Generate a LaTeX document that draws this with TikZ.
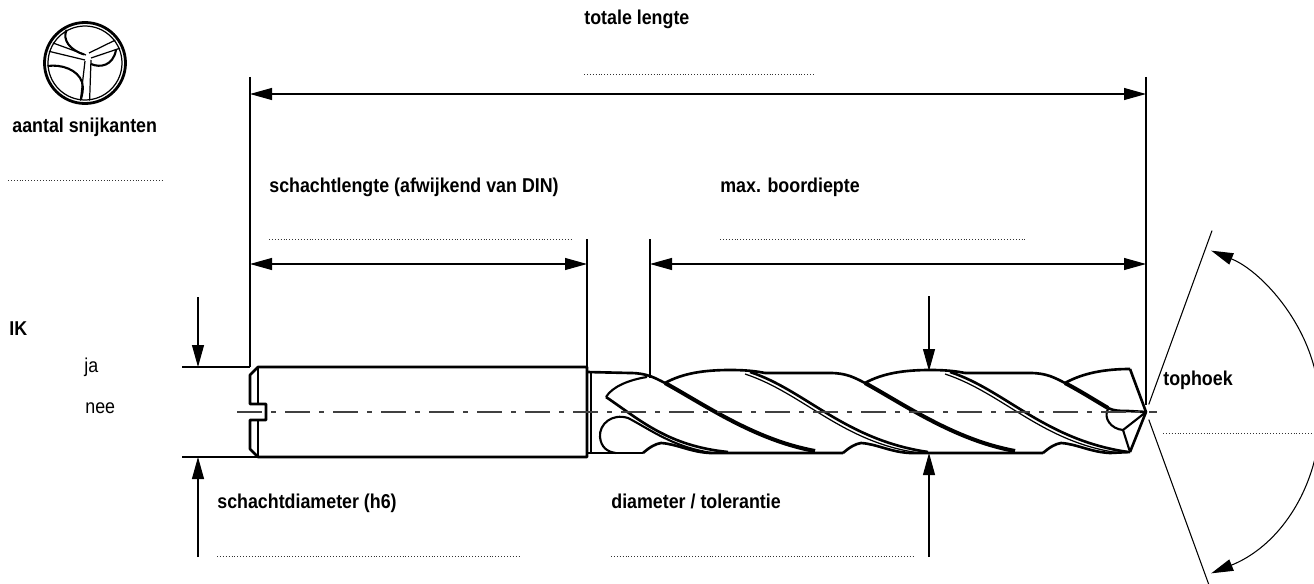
\documentclass[tikz,border=0pt]{standalone}
\usepackage{fontspec}
\setmainfont{Liberation Sans}[FakeStretch=0.89]
\usetikzlibrary{arrows.meta}

\tikzset{
  dimline/.style={line width=0.6pt},
  extline/.style={line width=0.6pt},
  outline/.style={line width=1.5pt,line join=round},
  heel/.style={line width=2.3pt},
  flank/.style={line width=1.2pt},
  rim/.style={line width=0.7pt},
  axisline/.style={line width=0.6pt,black!75,dash pattern=on 5mm off 1.8mm on 1mm off 1.8mm},
  dots/.style={line width=0.55pt,black!80,dash pattern=on 0.55pt off 1.1pt},
  lbl/.style={font=\bfseries\fontsize{11.4}{13}\selectfont,inner sep=0pt,anchor=base west},
  opt/.style={font=\fontsize{11.4}{13}\selectfont,inner sep=0pt,anchor=base west}
}

\begin{document}
\begin{tikzpicture}[x=0.2mm,y=-0.2mm,>={Triangle[length=4.4mm,width=2.4mm]}]

    \useasboundingbox (0,0) rectangle (1314,584);
    \clip (0,0) rectangle (1314,584);

    % end view of the tool
    \draw[line width=1.6pt] (85,63) circle[radius=40.5];
    \draw[rim] (85,63) circle[radius=37];
    \draw[rim] (52.8,42.9) -- (86,55) (48.9,51.3) -- (85,60);
    \draw[rim] (115.3,40.1) -- (89,53) (120,48.2) -- (91,58);
    \draw[rim] (80.4,100.7) -- (85,61) (89.6,100.7) -- (91,60);
    \draw[flank] (66.6,29.8) .. controls (62,40) and (70,50) .. (84,54.5);
    \draw[flank] (47.5,66) .. controls (62,64) and (78,70) .. (82,82) .. controls (84,89) and (82,95) .. (81,99);
    \draw[flank] (91,64) .. controls (100,68) and (113,66) .. (116,50);

    % number of cutting edges
    \node[lbl] (nflutes) at (12,133) {aantal snijkanten};
    \draw[dots] (8,180) -- (162,180);

    % internal cooling
    \node[lbl] (nik) at (9,335) {IK};
    \node[opt] (nyes) at (84,372) {ja};
    \node[opt] (nno) at (85,413) {nee};

    %%%%%%%%%%%%%%%%%%%%%%%%%%%%%%%%%%%%%%%%%%%%%%%%%%%%%%

    % shank
    \draw[outline] (258,367) -- (587,367) -- (587,457) -- (258,457) -- (250,449) -- (250,420) -- (266,420) -- (266,404) -- (250,404) -- (250,375) -- cycle;
    \draw[rim] (258,367) -- (258,404) (258,420) -- (258,457);
    \draw[rim] (591,372) -- (591,453);

    % top edge of the flutes
    \draw[outline] (587,372) -- (630,373) .. controls (647,373) and (655,378) .. (665,383);
    \draw[outline] (665,383) .. controls (683,373) and (705,370) .. (730,370) .. controls (745,370) and (755,371) .. (765,373);
    \draw[outline] (765,373) -- (830,373) .. controls (847,373) and (855,378) .. (865,383);
    \draw[outline] (865,383) .. controls (883,373) and (905,370) .. (930,370) .. controls (945,370) and (955,371) .. (965,373);
    \draw[outline] (965,373) -- (1030,373) .. controls (1047,373) and (1055,378) .. (1065,383);
    \draw[outline] (1065,383) .. controls (1083,373) and (1105,369) .. (1130,369);

    % point
    \draw[outline] (1130,369) -- (1146,412) -- (1130,452);
    \draw[outline] (1108,408) .. controls (1114,411) and (1120,411) .. (1128,411) -- (1146,412);
    \draw[flank] (1108,409) .. controls (1103,418) and (1111,429) .. (1123,430) -- (1146,412);
    \draw[flank] (1123,430) -- (1130,452);

    % flute heels
    \draw[heel] (665,383) .. controls (705,405) and (755,440) .. (815,451);
    \draw[heel] (865,383) .. controls (905,405) and (955,440) .. (1015,451);
    \draw[heel] (1065,383) .. controls (1082,392) and (1096,401) .. (1108,408);

    % margins
    \draw[outline] (750,372) .. controls (805,390) and (845,440) .. (928,452);
    \draw[rim] (745,374) .. controls (803,393) and (843,443) .. (920,453);
    \draw[outline] (950,372) .. controls (1005,390) and (1045,440) .. (1128,452);
    \draw[rim] (945,374) .. controls (1003,393) and (1043,443) .. (1120,453);

    % flute run-out near the shank
    \draw[flank] (606,397) .. controls (612,387) and (628,380) .. (647,377);
    \draw[outline] (606,397) .. controls (640,420) and (668,446) .. (728,452);
    \draw[flank] (616,453) .. controls (607,452) and (601,447) .. (600,437) .. controls (599,424) and (612,413) .. (628,418) .. controls (648,428) and (672,447) .. (712,453);

    % bottom edge of the flutes
    \draw[outline] (587,453) -- (643,453);
    \draw[outline] (643,453) .. controls (650,447) and (655,444) .. (661,443) .. controls (677,444) and (690,452) .. (710,453) -- (843,453);
    \draw[outline] (843,453) .. controls (850,447) and (855,444) .. (861,443) .. controls (877,444) and (890,452) .. (910,453) -- (1043,453);
    \draw[outline] (1043,453) .. controls (1050,447) and (1055,444) .. (1061,443) .. controls (1077,444) and (1090,452) .. (1110,453) -- (1130,452);

    % axis
    \draw[axisline] (237,412) -- (1157,412);

    %%%%%%%%%%%%%%%%%%%%%%%%%%%%%%%%%%%%%%%%%%%%%%%%%%%%%%

    % total length
    \node[lbl] (ntotal) at (584,25) {totale lengte};
    \draw[dots] (584,74) -- (814,74);
    \coordinate (totL) at (250,94);
    \coordinate (totR) at (1146,94);
    \draw[extline] (250,77) -- (250,367);
    \draw[extline] (1146,77) -- (1146,405);
    \draw[dimline,<->] (totL) -- (totR);

    % shank length
    \node[lbl] (nshank) at (269,192) {schachtlengte (afwijkend van DIN)};
    \draw[dots] (269,239) -- (573,239);
    \coordinate (shL) at (250,264);
    \coordinate (shR) at (587,264);
    \draw[extline] (587,239) -- (587,367);
    \draw[dimline,<->] (shL) -- (shR);

    % max. drilling depth
    \node[lbl] (ndepth) at (720,192) {max. boordiepte};
    \draw[dots] (720,239) -- (1025,239);
    \coordinate (dpL) at (650,264);
    \coordinate (dpR) at (1146,264);
    \draw[extline] (650,239) -- (650,378);
    \draw[dimline,<->] (dpL) -- (dpR);

    %%%%%%%%%%%%%%%%%%%%%%%%%%%%%%%%%%%%%%%%%%%%%%%%%%%%%%

    % shank diameter
    \node[lbl] (nshankd) at (217,508) {schachtdiameter (h6)};
    \draw[dots] (217,556) -- (521,556);
    \draw[extline] (182,367) -- (250,367);
    \draw[extline] (182,457) -- (258,457);
    \coordinate (sdT) at (198,367);
    \coordinate (sdB) at (198,457);
    \draw[dimline,->] (198,297) -- (sdT);
    \draw[dimline,->] (198,557) -- (sdB);

    % drill diameter
    \node[lbl] (ndiam) at (611,508) {diameter / tolerantie};
    \draw[dots] (611,556) -- (915,556);
    \coordinate (ddT) at (929,371);
    \coordinate (ddB) at (929,453);
    \draw[dimline,->] (929,296) -- (ddT);
    \draw[dimline,->] (929,557) -- (ddB);

    % point angle
    \node[lbl] (nangle) at (1163,385) {tophoek};
    \draw[dots] (1163,433) -- (1314,433);
    \coordinate (tip) at (1146,412);
    \draw[extline] (tip) ++(70:8) -- ++(70:190);
    \draw[extline] (tip) ++(-70:8) -- ++(-70:185);
    \draw[dimline,<->] (tip) ++(68:174) arc[start angle=68,end angle=-68,radius=174];

\end{tikzpicture}
\end{document}
